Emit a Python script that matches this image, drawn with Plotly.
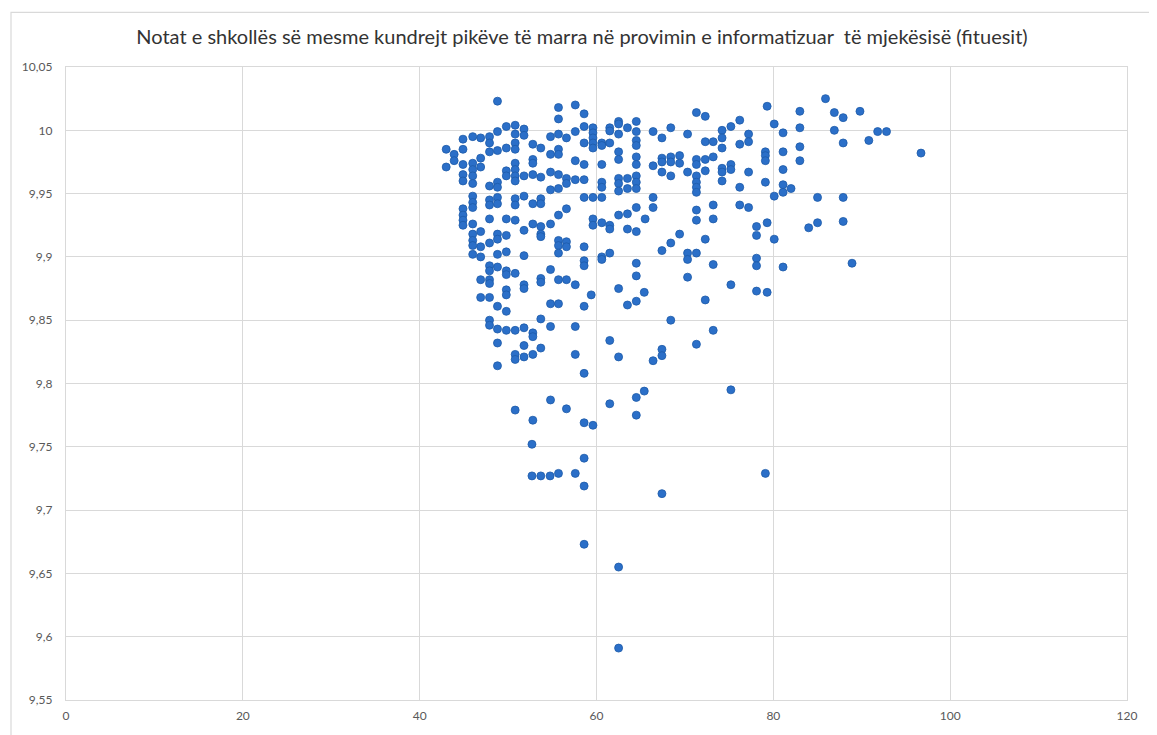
import plotly.graph_objects as go

title_text = "Notat e shkollës së mesme kundrejt pikëve të marra në provimin e informatizuar  të mjekësisë (fituesit)"

# (x = pikët në provim, y = nota mesatare e shkollës së mesme)
pts = [
    (48.8, 10.023), (55.7, 10.018), (57.6, 10.020), (58.6, 10.013), (55.7, 10.009),
    (49.8, 10.003), (50.8, 10.004), (51.8, 10.001), (48.8, 9.999), (50.8, 9.997),
    (51.8, 9.996), (54.8, 9.995), (55.7, 9.997), (56.6, 9.994), (57.6, 9.999),
    (58.6, 10.003), (59.6, 10.002), (59.6, 9.998), (59.6, 9.994), (59.6, 9.990),
    (59.6, 9.986), (44.9, 9.993), (46.0, 9.995), (46.9, 9.994), (47.9, 9.995),
    (47.9, 9.990), (48.8, 9.984), (47.9, 9.983), (49.8, 9.986), (50.8, 9.990),
    (50.8, 9.985), (52.8, 9.989), (53.7, 9.986), (54.8, 9.981), (55.7, 9.985),
    (55.7, 9.981), (58.6, 9.990), (43.0, 9.985), (43.9, 9.981), (43.9, 9.976),
    (44.9, 9.985), (43.0, 9.971), (44.9, 9.973), (46.0, 9.974), (46.0, 9.969),
    (46.0, 9.964), (46.0, 9.958), (44.9, 9.965), (44.9, 9.960), (46.9, 9.978),
    (46.9, 9.971), (47.9, 9.956), (48.8, 9.959), (48.8, 9.955), (49.8, 9.968),
    (49.8, 9.964), (50.8, 9.974), (50.8, 9.969), (50.8, 9.964), (50.8, 9.960),
    (51.8, 9.964), (52.8, 9.977), (52.8, 9.974), (52.8, 9.965), (53.7, 9.963),
    (54.8, 9.967), (55.7, 9.965), (56.6, 9.962), (56.6, 9.958), (57.6, 9.976),
    (58.6, 9.973), (57.6, 9.961), (58.6, 9.961), (46.0, 9.948), (46.0, 9.943),
    (46.0, 9.939), (47.9, 9.945), (47.9, 9.941), (48.8, 9.947), (48.8, 9.942),
    (50.8, 9.946), (50.8, 9.941), (51.8, 9.948), (52.8, 9.942), (53.7, 9.946),
    (53.7, 9.942), (54.8, 9.953), (55.7, 9.954), (56.6, 9.938), (58.6, 9.947),
    (59.6, 9.947), (44.9, 9.938), (44.9, 9.933), (44.9, 9.929), (44.9, 9.925),
    (46.0, 9.926), (46.9, 9.920), (47.9, 9.930), (49.8, 9.930), (50.8, 9.929),
    (51.8, 9.921), (52.8, 9.926), (53.7, 9.924), (53.7, 9.918), (53.7, 9.916),
    (54.8, 9.926), (55.7, 9.933), (58.6, 9.908), (59.6, 9.930), (59.6, 9.925),
    (46.0, 9.918), (46.0, 9.913), (46.0, 9.909), (46.9, 9.908), (47.9, 9.911),
    (48.8, 9.918), (48.8, 9.914), (49.8, 9.917), (55.7, 9.913), (55.7, 9.909),
    (56.6, 9.912), (56.6, 9.908), (46.0, 9.902), (46.9, 9.900), (48.8, 9.902),
    (49.8, 9.904), (51.8, 9.901), (55.7, 9.903),
    (58.6, 9.897), (58.6, 9.893), (47.9, 9.893), (47.9, 9.889), (48.8, 9.892),
    (49.8, 9.889), (49.8, 9.886), (50.8, 9.887), (46.9, 9.882), (47.9, 9.882),
    (47.9, 9.879), (51.8, 9.878), (51.8, 9.875), (53.7, 9.883), (53.7, 9.880),
    (54.8, 9.890), (55.7, 9.882), (56.6, 9.882), (57.6, 9.878), (59.4, 9.870),
    (46.9, 9.868), (47.9, 9.868), (49.8, 9.874), (49.8, 9.870), (48.8, 9.861),
    (49.8, 9.857), (54.8, 9.863), (55.7, 9.863), (58.6, 9.861), (47.9, 9.850),
    (47.9, 9.846), (48.8, 9.843), (49.8, 9.842), (50.8, 9.842), (51.8, 9.844),
    (52.8, 9.840), (52.8, 9.837), (53.7, 9.851), (54.8, 9.845), (57.6, 9.845),
    (48.8, 9.832), (51.8, 9.830), (50.8, 9.823), (50.8, 9.819), (51.8, 9.821),
    (52.8, 9.823), (53.7, 9.828), (57.6, 9.823), (48.8, 9.814), (58.6, 9.808),
    (54.8, 9.787), (50.8, 9.779), (56.6, 9.780), (52.8, 9.771), (58.6, 9.769),
    (59.6, 9.767),
    (52.7, 9.752), (52.7, 9.727), (53.7, 9.727), (54.75, 9.727), (55.7, 9.729),
    (57.6, 9.729), (58.6, 9.719), (58.6, 9.741), (67.4, 9.713), (79.1, 9.729),
    (58.6, 9.673), (62.5, 9.655), (62.5, 9.591),
    (60.6, 9.990), (60.6, 9.988), (61.5, 10.002), (61.5, 9.9995), (62.5, 10.007),
    (62.5, 10.005), (62.5, 9.997), (63.5, 10.002), (64.5, 10.007), (64.5, 9.999),
    (64.5, 9.992), (64.5, 9.988), (61.5, 9.990), (60.6, 9.973), (62.5, 9.983),
    (62.5, 9.977), (64.5, 9.979), (64.5, 9.973), (66.4, 9.999), (67.4, 9.994),
    (68.4, 10.002), (70.3, 9.997), (71.3, 10.014), (72.3, 10.011), (72.3, 9.991),
    (73.2, 9.991), (74.2, 10.000), (74.2, 9.994), (74.2, 9.986), (75.2, 10.003),
    (76.2, 10.008), (77.2, 9.997), (77.2, 9.991), (76.2, 9.989), (79.3, 10.019),
    (60.6, 9.959), (60.6, 9.955), (62.5, 9.962), (62.5, 9.958), (62.5, 9.952),
    (63.5, 9.962), (63.5, 9.954), (64.5, 9.964), (64.5, 9.959), (64.5, 9.954),
    (66.4, 9.972), (67.4, 9.978), (67.4, 9.975), (67.4, 9.967), (68.4, 9.979),
    (68.4, 9.975), (68.4, 9.964), (69.4, 9.980), (69.4, 9.974), (70.3, 9.967),
    (71.3, 9.977), (71.3, 9.973), (71.3, 9.964), (71.3, 9.959), (71.3, 9.955),
    (71.3, 9.951), (71.3, 9.937), (71.3, 9.929), (72.3, 9.977), (73.2, 9.979),
    (74.2, 9.970), (74.2, 9.967), (75.2, 9.973), (75.2, 9.969), (77.2, 9.967),
    (74.2, 9.960), (72.3, 9.968), (66.4, 9.947), (66.4, 9.939), (76.2, 9.955),
    (60.6, 9.947), (62.5, 9.933), (63.5, 9.934), (64.5, 9.939), (65.5, 9.930),
    (60.6, 9.927), (61.5, 9.925), (61.5, 9.922), (63.5, 9.922), (64.5, 9.920),
    (69.4, 9.918), (68.4, 9.911), (67.4, 9.905), (70.3, 9.903), (71.3, 9.903),
    (72.3, 9.914), (60.6, 9.900), (61.5, 9.903), (73.2, 9.941), (73.2, 9.930),
    (76.2, 9.941), (77.2, 9.939), (78.1, 9.924), (78.1, 9.917), (79.3, 9.927),
    (60.6, 9.898), (64.5, 9.895), (64.5, 9.885), (70.3, 9.898), (73.2, 9.894),
    (78.1, 9.899), (78.1, 9.893), (70.3, 9.884), (62.5, 9.875), (65.4, 9.872),
    (63.5, 9.862), (64.5, 9.865), (75.2, 9.878), (72.3, 9.866), (78.1, 9.873),
    (79.3, 9.872), (68.4, 9.850), (73.2, 9.842), (61.5, 9.834), (71.3, 9.831),
    (62.5, 9.821), (67.4, 9.827), (67.4, 9.822), (66.4, 9.818), (65.4, 9.794),
    (64.5, 9.789), (61.5, 9.784), (64.5, 9.775), (75.2, 9.795),
    (80.1, 10.005), (81.1, 9.998), (83.0, 10.015), (83.0, 10.002), (83.0, 9.987),
    (83.0, 9.976), (85.9, 10.025), (86.9, 10.014), (86.9, 10.000), (87.9, 10.010),
    (87.9, 9.990), (89.8, 10.015), (90.8, 9.992), (91.8, 9.999), (92.8, 9.999),
    (96.7, 9.982), (79.1, 9.983), (79.1, 9.980), (79.1, 9.976), (81.1, 9.983),
    (81.1, 9.969), (79.1, 9.959), (81.1, 9.957), (81.1, 9.951), (82.0, 9.954),
    (80.1, 9.948), (85.0, 9.947), (87.9, 9.947), (84.0, 9.923), (85.0, 9.927),
    (87.9, 9.928), (80.1, 9.914), (81.1, 9.892), (88.9, 9.895),
]
pike = [p[0] for p in pts]
nota = [p[1] for p in pts]

x_ticks = [0, 20, 40, 60, 80, 100, 120]
y_ticks = [9.55, 9.6, 9.65, 9.7, 9.75, 9.8, 9.85, 9.9, 9.95, 10.0, 10.05]
y_ticktext = [("%g" % v).replace(".", ",") for v in y_ticks]

grid = "#d9d9d9"
txt = "#595959"
FONT = "Lato, 'Open Sans', sans-serif"

fig = go.Figure()
fig.add_trace(go.Scatter(
    x=pike, y=nota, mode="markers",
    marker=dict(size=8, color="#2b6fc8", line=dict(color="#1d5aa8", width=0.8)),
    showlegend=False, hoverinfo="x+y",
))

# page has an 8px body margin, so the figure is offset by 8px
W, H = 1149, 727
L, R, T, B = 58, 30, 59, 31
pw, ph = W - L - R, H - T - B

fig.update_layout(
    width=W, height=H,
    margin=dict(l=L, r=R, t=T, b=B, pad=0),
    paper_bgcolor="white", plot_bgcolor="white",
    separators=",.",
    title=dict(text=title_text, x=574 / W, xanchor="center",
               y=1 - 29 / H, yanchor="middle",
               font=dict(family=FONT, size=20, color="#333333")),
    font=dict(family=FONT, size=12, color=txt),
    xaxis=dict(range=[0, 120], tickvals=x_ticks, showgrid=True, gridcolor=grid, gridwidth=1.3,
               showline=True, linecolor=grid, linewidth=1.3, mirror=True, zeroline=False,
               ticks="outside", ticklen=4, tickcolor="rgba(0,0,0,0)",
               tickfont=dict(family=FONT, size=12, color=txt)),
    yaxis=dict(range=[9.55, 10.05], tickvals=y_ticks, ticktext=y_ticktext, showgrid=True,
               gridcolor=grid, gridwidth=1.3, showline=True, linecolor=grid, linewidth=1.3,
               mirror=True, zeroline=False,
               ticks="outside", ticklen=10, tickcolor="rgba(0,0,0,0)",
               tickfont=dict(family=FONT, size=12, color=txt)),
    shapes=[dict(type="rect", xref="paper", yref="paper",
                 x0=(3 - L) / pw, x1=(1143 - L) / pw,
                 y0=(H - B - 740) / ph, y1=(H - B - 4) / ph,
                 line=dict(color=grid, width=1.2), fillcolor="rgba(0,0,0,0)", layer="below")],
)

fig.write_html("out.html")
